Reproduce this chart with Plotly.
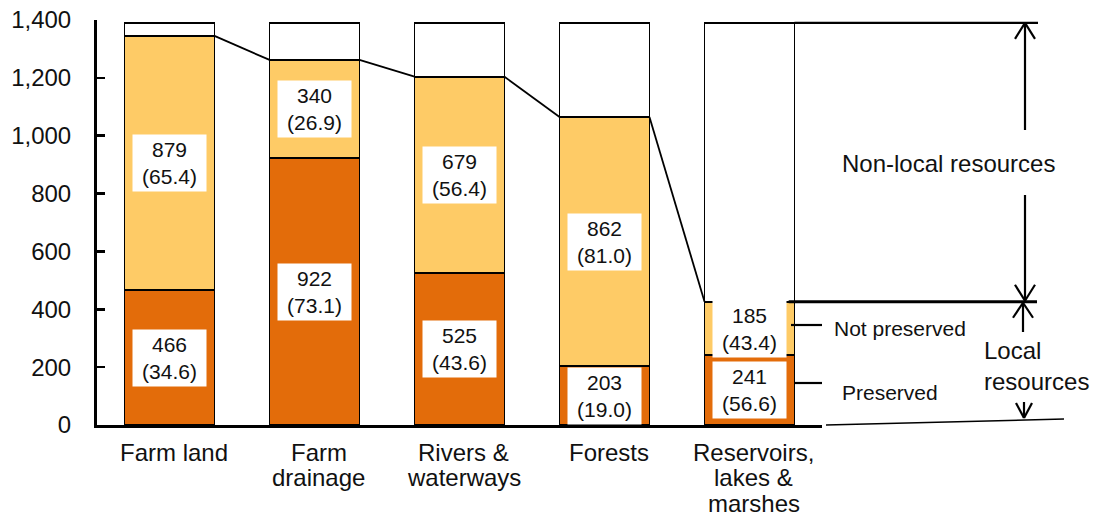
import plotly.graph_objects as go

# ---------------- data ----------------
categories = ["Farm land", "Farm<br>drainage", "Rivers &<br>waterways", "Forests",
              "Reservoirs,<br>lakes &<br>marshes"]
preserved = [466, 922, 525, 203, 241]
not_preserved = [879, 340, 679, 862, 185]
preserved_pct = [34.6, 73.1, 43.6, 19.0, 56.6]
not_preserved_pct = [65.4, 26.9, 56.4, 81.0, 43.4]
total_resources = 1390
y_ticks = [0, 200, 400, 600, 800, 1000, 1200, 1400]

# ---------------- style / geometry ----------------
FONT = "Liberation Sans, Arial, sans-serif"
DARK = "#E36C0A"
LIGHT = "#FECB66"
TXT = "#111111"
BAR_W = 0.62
W, H = 1096, 520
ML, MR, MT, MB = 97, 274, 20, 95
PW, PH = W - ML - MR, H - MT - MB
YMAX = 1400
X0_SCREEN = ML
Y0_SCREEN = MT + PH          # screen y of value 0

def px_x(px):
    return (px - X0_SCREEN) / PW

def px_y(py):
    return (Y0_SCREEN - py) / PH

def val_y(v):
    return v / YMAX

def val_py(v):
    return Y0_SCREEN - v / YMAX * PH

def data_x(x):
    return (x + 0.5) / 5.0

xs = list(range(len(categories)))
local_tot = [p + n for p, n in zip(preserved, not_preserved)]
remainder = [total_resources - t for t in local_tot]

fig = go.Figure()
line = dict(color="#000000", width=1.8)
fig.add_trace(go.Bar(x=xs, y=preserved, width=BAR_W, marker=dict(color=DARK, line=line),
                     hoverinfo="skip"))
fig.add_trace(go.Bar(x=xs, y=not_preserved, width=BAR_W, marker=dict(color=LIGHT, line=line),
                     hoverinfo="skip"))
fig.add_trace(go.Bar(x=xs, y=remainder, width=BAR_W, marker=dict(color="white", line=line),
                     hoverinfo="skip"))

# connecting lines between tops of local resources
cx, cy = [], []
for i in range(len(xs) - 1):
    cx += [xs[i] + BAR_W / 2, xs[i + 1] - BAR_W / 2, None]
    cy += [local_tot[i], local_tot[i + 1], None]
fig.add_trace(go.Scatter(x=cx, y=cy, mode="lines", line=dict(color="black", width=1.8),
                         hoverinfo="skip", cliponaxis=False))

annotations = []
# value boxes
for i in xs:
    for val, pct, base in [(preserved[i], preserved_pct[i], 0),
                           (not_preserved[i], not_preserved_pct[i], preserved[i])]:
        annotations.append(dict(
            x=xs[i], y=base + val / 2, xref="x", yref="y",
            text=f"{val}<br>({pct:.1f})", showarrow=False,
            xanchor="center", yanchor="middle",
            font=dict(family=FONT, size=21, color=TXT),
            bgcolor="white", width=73, height=56, borderpad=0))

# category labels (one annotation per line for tight line spacing)
for i, cat in enumerate(categories):
    for k, part in enumerate(cat.split("<br>")):
        annotations.append(dict(
            x=data_x(xs[i]) + 0.006, y=px_y(452 + 25.5 * k), xref="paper", yref="paper",
            text=part, showarrow=False, xanchor="center", yanchor="middle",
            font=dict(family=FONT, size=24, color=TXT)))

shapes = []
blk = dict(color="black", width=2.2)
right_edge = data_x(xs[-1] + BAR_W / 2)
shapes.append(dict(type="line", xref="paper", yref="paper",
                   x0=right_edge, x1=px_x(1038), y0=val_y(total_resources), y1=val_y(total_resources), line=blk))
shapes.append(dict(type="line", xref="paper", yref="paper",
                   x0=right_edge - 0.008, x1=px_x(1037), y0=val_y(local_tot[-1]), y1=val_y(local_tot[-1]),
                   line=dict(color="black", width=3)))
shapes.append(dict(type="line", xref="paper", yref="paper",
                   x0=px_x(826), x1=px_x(1064), y0=px_y(425), y1=px_y(419),
                   line=dict(color="black", width=1.5)))
shapes.append(dict(type="line", xref="paper", yref="paper",
                   x0=px_x(791), x1=px_x(822), y0=px_y(325), y1=px_y(325), line=blk))
shapes.append(dict(type="line", xref="paper", yref="paper",
                   x0=px_x(795), x1=px_x(822), y0=px_y(383), y1=px_y(383), line=blk))

def arrow(xp, y_from, y_to, head=16, half=10):
    shapes.append(dict(type="line", xref="paper", yref="paper",
                       x0=px_x(xp), x1=px_x(xp), y0=px_y(y_from), y1=px_y(y_to), line=blk))
    d = -head if y_to < y_from else head
    for s in (-1, 1):
        shapes.append(dict(type="line", xref="paper", yref="paper",
                           x0=px_x(xp + s * half), x1=px_x(xp), y0=px_y(y_to - d), y1=px_y(y_to),
                           line=blk))

y_top_px = val_py(total_resources)
y_loc_px = val_py(local_tot[-1])
arrow(1025, 130, y_top_px)
arrow(1025, 195, y_loc_px - 1)
arrow(1023, 332, y_loc_px + 1, head=15, half=10)
arrow(1024, 402, 418, head=15, half=8)

common = dict(xref="paper", yref="paper", showarrow=False, yanchor="middle")
annotations += [
    dict(x=px_x(948), y=px_y(163), text="Non-local resources", xanchor="center",
         font=dict(family=FONT, size=24, color=TXT), **common),
    dict(x=px_x(982), y=px_y(366), text="Local<br>resources", xanchor="left", align="left",
         font=dict(family=FONT, size=24, color=TXT), **common),
    dict(x=px_x(832), y=px_y(328), text="Not preserved", xanchor="left",
         font=dict(family=FONT, size=21, color=TXT), **common),
    dict(x=px_x(840), y=px_y(392), text="Preserved", xanchor="left",
         font=dict(family=FONT, size=21, color=TXT), **common),
]

fig.update_layout(
    width=W, height=H, barmode="stack", showlegend=False,
    margin=dict(l=ML, r=MR, t=MT, b=MB, autoexpand=False),
    paper_bgcolor="white", plot_bgcolor="white",
    font=dict(family=FONT, size=22, color=TXT),
    xaxis=dict(range=[-0.5, 4.5], tickvals=xs, showticklabels=False, showgrid=False,
               zeroline=False, showline=True, linecolor="black", linewidth=3, ticks="",
               fixedrange=True),
    yaxis=dict(range=[0, YMAX], tickvals=y_ticks, tickformat=",", showgrid=False, zeroline=False,
               showline=True, linecolor="black", linewidth=3, ticks="inside", ticklen=8,
               tickwidth=2.5, tickcolor="black", ticklabelstandoff=18,
               ticklabeloverflow="allow",
               tickfont=dict(family=FONT, size=24, color=TXT), fixedrange=True),
    shapes=shapes, annotations=annotations,
)

fig.write_html("out.html", config={"displayModeBar": False, "staticPlot": True},
               post_script="document.body.style.margin='0px';")
